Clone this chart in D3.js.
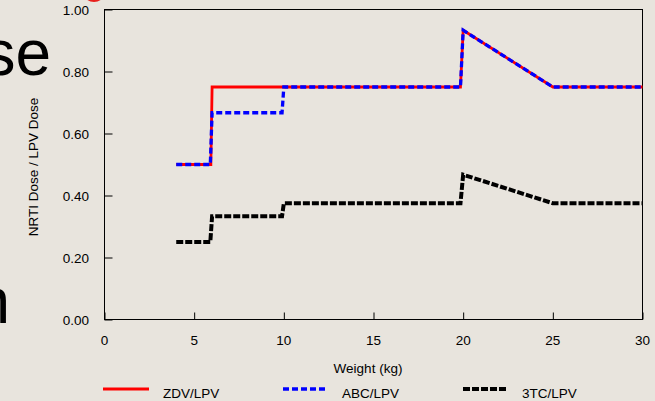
<!DOCTYPE html>
<html>
<head>
<meta charset="utf-8">
<script src="https://cdn.jsdelivr.net/npm/d3@7"></script>
<style>
  html, body { margin: 0; padding: 0; background: #e8e4dd; }
  svg { display: block; }
  text { font-family: "Liberation Sans", Arial, Helvetica, sans-serif; fill: #000; }
</style>
</head>
<body>
<svg id="chart" width="655" height="401"></svg>
<script>
// Dosing ratio (NRTI dose / LPV dose) by body weight
const zdvWeight = [4, 5.93, 6, 19.85, 20, 25, 30];
const zdvRatio  = [0.5, 0.5, 0.75, 0.75, 0.933, 0.75, 0.75];

const abcWeight = [4, 5.9, 6, 9.9, 10, 19.85, 20, 25, 30];
const abcRatio  = [0.5, 0.5, 0.667, 0.667, 0.75, 0.75, 0.933, 0.75, 0.75];

const tcWeight  = [4, 5.9, 6, 9.9, 10, 19.85, 20, 25, 30];
const tcRatio   = [0.25, 0.25, 0.333, 0.333, 0.375, 0.375, 0.467, 0.375, 0.375];

const seriesNames = ["ZDV/LPV", "ABC/LPV", "3TC/LPV"];
const xTicks = [0, 5, 10, 15, 20, 25, 30];
const yTicks = [0, 0.2, 0.4, 0.6, 0.8, 1.0];

const svg = d3.select("#chart");

// partial slide text around the chart
svg.append("ellipse").attr("cx", 94).attr("cy", -8).attr("rx", 11).attr("ry", 10).attr("fill", "#e8201c");
svg.append("text").attr("x", 51).attr("y", 75).attr("text-anchor", "end")
  .style("font-size", "64px").text("se");
svg.append("text").attr("x", 10).attr("y", 323).attr("text-anchor", "end")
  .style("font-size", "64px").text("n");

const x = d3.scaleLinear().domain([0, 30]).range([104.5, 642.5]);
const y = d3.scaleLinear().domain([0, 1]).range([319.5, 9.5]);

const fs = "13.5px";

// frame
svg.append("rect")
  .attr("x", x(0)).attr("y", y(1))
  .attr("width", x(30) - x(0)).attr("height", y(0) - y(1))
  .attr("fill", "none").attr("stroke", "#000").attr("stroke-width", 1);

// y axis: inward ticks, labels on the left
const yAxis = d3.axisRight(y).tickValues(yTicks).tickSize(8).tickFormat("");
const gy = svg.append("g").attr("transform", `translate(${x(0)},0)`).call(yAxis);
gy.select(".domain").remove();
gy.selectAll(".tick line").attr("stroke", "#000");
svg.append("g").selectAll("text").data(yTicks).join("text")
  .attr("x", 89).attr("y", d => y(d) + 5.5)
  .attr("text-anchor", "end").style("font-size", fs)
  .text(d => d3.format(".2f")(d));

// x axis: inward ticks, labels below
const xAxis = d3.axisTop(x).tickValues(xTicks).tickSize(7).tickFormat("");
const gx = svg.append("g").attr("transform", `translate(0,${y(0)})`).call(xAxis);
gx.select(".domain").remove();
gx.selectAll(".tick line").attr("stroke", "#000");
svg.append("g").selectAll("text").data(xTicks).join("text")
  .attr("x", d => x(d)).attr("y", 345)
  .attr("text-anchor", "middle").style("font-size", fs)
  .text(d => d);

// axis titles
svg.append("text").attr("x", 368).attr("y", 372.5).attr("text-anchor", "middle")
  .style("font-size", fs).text("Weight (kg)");
svg.append("text").attr("transform", "translate(38,167) rotate(-90)")
  .attr("text-anchor", "middle").style("font-size", fs).text("NRTI Dose / LPV Dose");

// series
const styles = [
  { color: "#ff0000", width: 2.8, dash: null },
  { color: "#0000ff", width: 3.3, dash: "6,3" },
  { color: "#000000", width: 4,   dash: "7,2" }
];
const data = [
  d3.zip(zdvWeight, zdvRatio),
  d3.zip(abcWeight, abcRatio),
  d3.zip(tcWeight, tcRatio)
];
const line = d3.line().x(d => x(d[0])).y(d => y(d[1]));

data.forEach((pts, i) => {
  svg.append("path").datum(pts)
    .attr("d", line)
    .attr("fill", "none")
    .attr("stroke", styles[i].color)
    .attr("stroke-width", styles[i].width)
    .attr("stroke-dasharray", styles[i].dash)
    .attr("stroke-linejoin", "miter");
});

// legend
const legendX = [103, 283, 463];
seriesNames.forEach((name, i) => {
  const g = svg.append("g");
  g.append("line")
    .attr("x1", legendX[i]).attr("x2", legendX[i] + (i === 0 ? 46 : 43))
    .attr("y1", 389).attr("y2", 389)
    .attr("stroke", styles[i].color)
    .attr("stroke-width", styles[i].width)
    .attr("stroke-dasharray", styles[i].dash);
  g.append("text")
    .attr("x", legendX[i] + (i === 0 ? 60 : 59)).attr("y", 397.5)
    .style("font-size", fs).text(name);
});
</script>
</body>
</html>
